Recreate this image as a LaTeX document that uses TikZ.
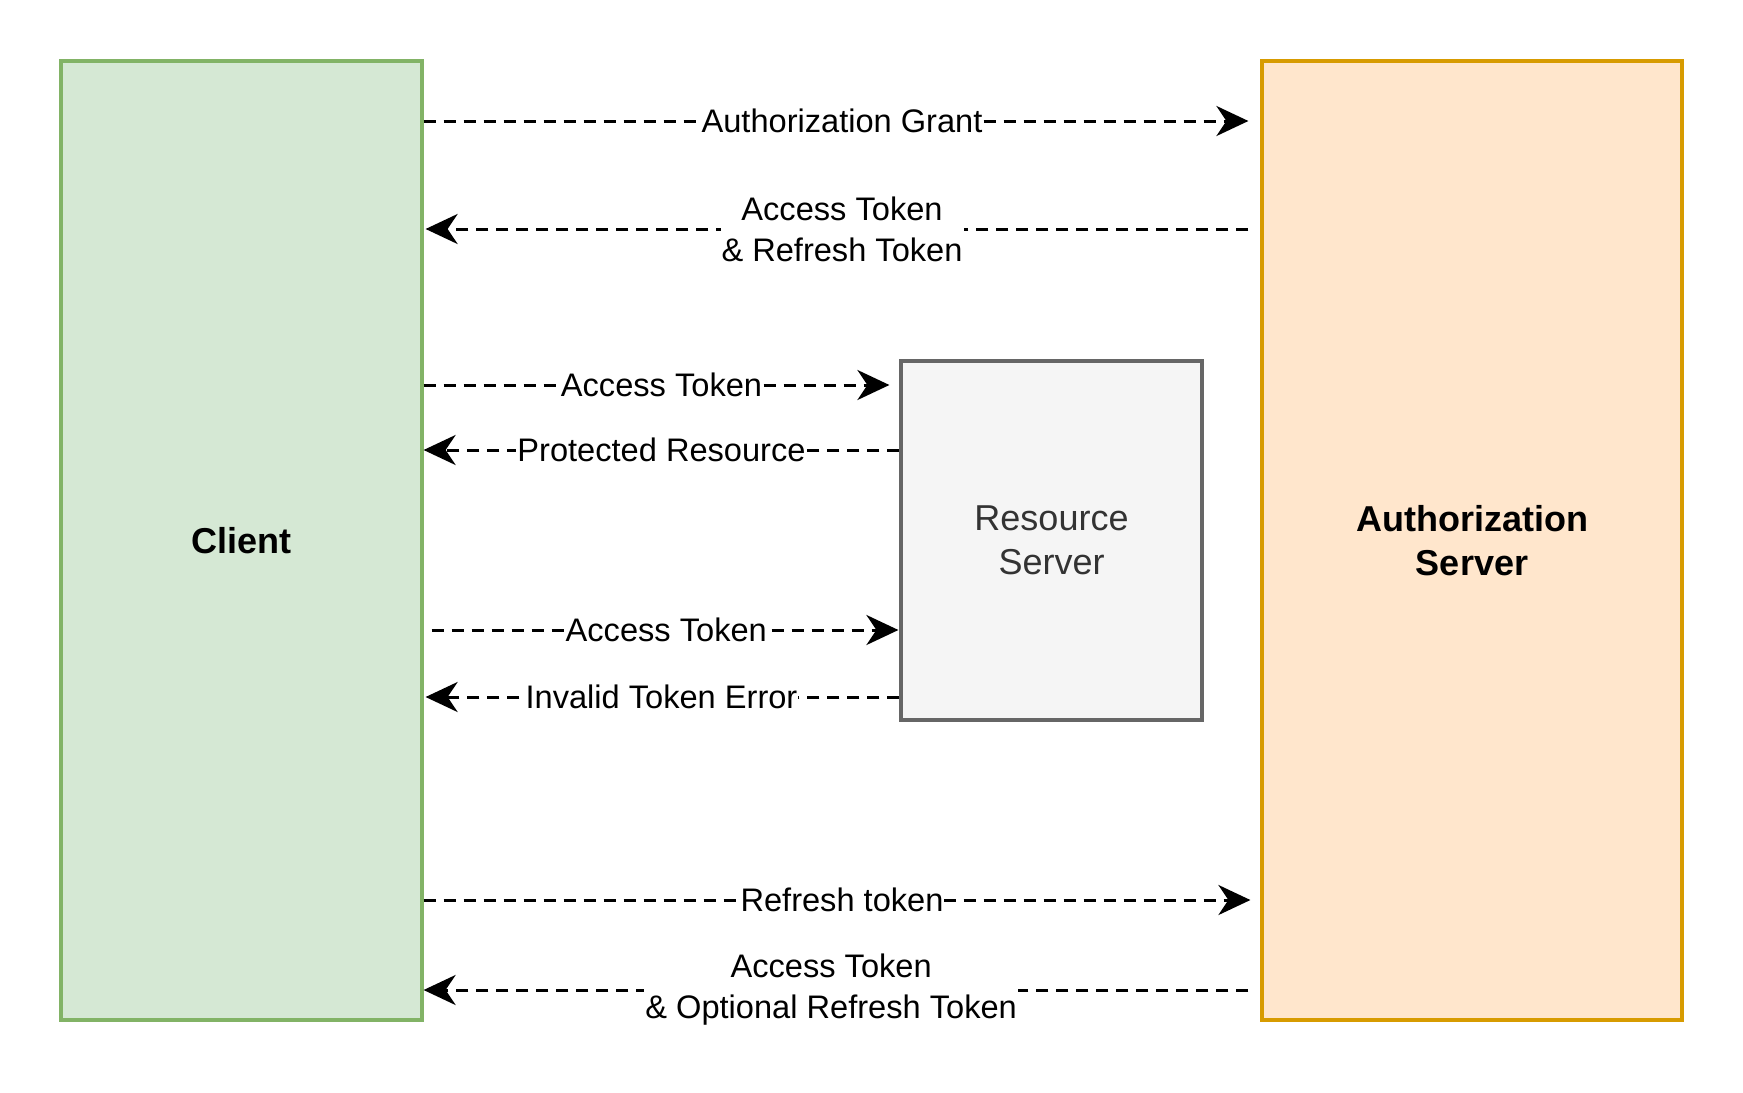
\documentclass[tikz,border=0pt]{standalone}
\usepackage{fontspec}
\setmainfont{Liberation Sans}
\usetikzlibrary{arrows.meta, positioning}
\definecolor{clientfill}{HTML}{D5E8D4}
\definecolor{clientline}{HTML}{82B366}
\definecolor{authfill}{HTML}{FFE6CC}
\definecolor{authline}{HTML}{D79B00}
\definecolor{resfill}{HTML}{F5F5F5}
\definecolor{resline}{HTML}{666666}
\definecolor{restext}{HTML}{333333}
\tikzset{
	x=0.5pt, y=-0.5pt, % one unit is one pixel of the drawing
	box/.style={draw, line width=1.6pt, inner sep=0pt, align=center, font=\fontsize{18}{22}\selectfont}, % the three parties
	flow/.style={-{Stealth[length=16pt,width=15pt,inset=5pt]}, line width=1.5pt, dash pattern=on 6pt off 4pt}, % dashed messages
	lbl/.style={midway, fill=white, inner sep=0.5pt, align=center, font=\fontsize{16.3}{20.5}\selectfont}, % text on a message
}
\begin{document}
\begin{tikzpicture}
        \useasboundingbox (0,0) rectangle (1743,1092);
        % The three parties
        \node[box, fill=clientfill, draw=clientline, minimum width=180.5pt, minimum height=479.5pt, font=\fontsize{18}{22}\selectfont\bfseries] (cl) at (241.5,540.5) {Client};
        \node[box, fill=authfill, draw=authline, minimum width=210pt, minimum height=479.5pt, font=\fontsize{18}{22}\selectfont\bfseries] (as) at (1472,540.5) {Authorization\\Server};
        \node[box, fill=resfill, draw=resline, text=restext, minimum width=150.5pt, minimum height=179.5pt] (rs) at (1051.5,540.5) {Resource\\Server};

        % Heights of the messages
        \coordinate (r1) at (0,121);
        \coordinate (r2) at (0,229);
        \coordinate (r3) at (0,385);
        \coordinate (r4) at (0,450);
        \coordinate (r5) at (0,630);
        \coordinate (r6) at (0,697);
        \coordinate (r7) at (0,900);
        \coordinate (r8) at (0,990);

        % Messages between the parties
        \draw[flow, shorten >=6pt] (cl.east |- r1) -- node[lbl] {Authorization Grant} (as.west |- r1);
        \draw[flow, shorten <=6pt, shorten >=1pt] (as.west |- r2) -- node[lbl] {Access Token\\\& Refresh Token} (cl.east |- r2);
        \draw[flow, shorten >=5pt] (cl.east |- r3) -- node[lbl] {Access Token} (rs.west |- r3);
        \draw[flow] (rs.west |- r4) -- node[lbl] {Protected Resource} (cl.east |- r4);
        \draw[flow, shorten <=4pt, shorten >=0.5pt] (cl.east |- r5) -- node[lbl, pos=0.51] {Access Token} (rs.west |- r5);
        \draw[flow, shorten >=1pt] (rs.west |- r6) -- node[lbl] {Invalid Token Error} (cl.east |- r6);
        \draw[flow, shorten >=5pt] (cl.east |- r7) -- node[lbl] {Refresh token} (as.west |- r7);
        \draw[flow, shorten <=6pt] (as.west |- r8) -- node[lbl, pos=0.513] {Access Token\\\& Optional Refresh Token} (cl.east |- r8);
\end{tikzpicture}
\end{document}
